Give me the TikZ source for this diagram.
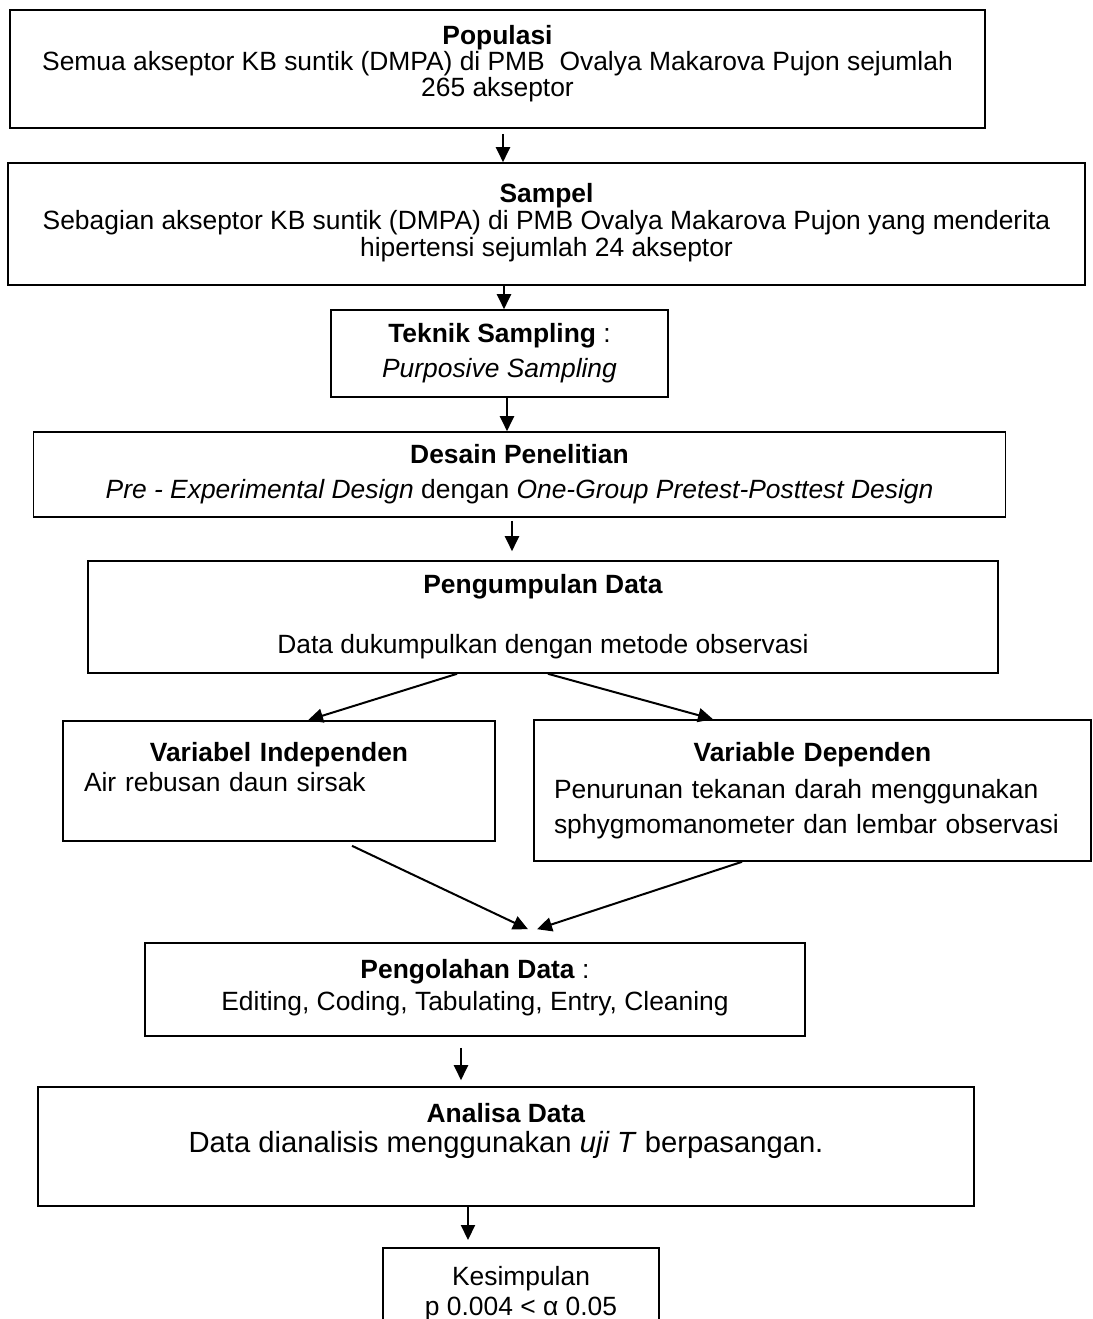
\documentclass[tikz,border=0pt]{standalone}
\usepackage{fontspec}
\setmainfont{Liberation Sans}
\usetikzlibrary{arrows.meta}

\newcommand{\lowstrut}[1]{\rule[-#1]{0pt}{#1}}

\begin{document}
\begin{tikzpicture}
  [x=0.5pt,y=-0.5pt,
   every node/.style={draw, line width=0.8pt, align=center, inner sep=0pt,
     font=\fontsize{13.2}{13.5}\selectfont},
   arr/.style={-{Triangle[length=7.5pt,width=7pt]}, line width=1pt}]
  \useasboundingbox (0,0) rectangle (1093,1319);
  \clip (0,0) rectangle (1093,1319);

  \node[minimum width=487.5pt, minimum height=59pt] (pop) at (497.5,69)
    {\textbf{Populasi}\\[-0.5pt]Semua akseptor KB suntik (DMPA) di PMB~ Ovalya Makarova Pujon sejumlah\\[-0.5pt]265 akseptor\lowstrut{8pt}};
  \node[minimum width=538.5pt, minimum height=61pt] (sam) at (546.5,224)
    {\textbf{Sampel}\\Sebagian akseptor KB suntik (DMPA) di PMB Ovalya Makarova Pujon yang menderita\\hipertensi sejumlah 24 akseptor\lowstrut{4.5pt}};
  \node[minimum width=168.5pt, minimum height=43.5pt] (tek) at (499.5,353.5)
    {\textbf{Teknik Sampling} :\\[4pt]\textit{Purposive Sampling}\lowstrut{3.5pt}};
  \node[minimum width=486pt, minimum height=42.5pt] (des) at (519.5,474.5)
    {\textbf{Desain Penelitian}\\[4pt]\textit{Pre - Experimental Design} dengan \textit{One-Group Pretest-Posttest Design}};
  \node[minimum width=454.75pt, minimum height=56pt] (kum) at (543,617)
    {\textbf{Pengumpulan Data}\\[16.5pt]Data dukumpulkan dengan metode observasi};

  % two variables
  \node[minimum width=216pt, minimum height=60pt, text width=195pt, inner xsep=10.5pt, align=left] (ind) at (279,781)
    {\null\hfill\textbf{Variabel Independen}\hfill\null\\[1.5pt]Air rebusan daun sirsak\lowstrut{14pt}};
  \node[minimum width=278.5pt, minimum height=70.5pt, text width=258.5pt, inner xsep=10pt, align=left] (dep) at (812.5,790.5)
    {\null\hfill\textbf{Variable Dependen}\hfill\null\\[5pt]Penurunan tekanan darah menggunakan\\[4pt]sphygmomanometer dan lembar observasi};

  \node[minimum width=330pt, minimum height=46.5pt] (olah) at (475,989.5)
    {\textbf{Pengolahan Data} :\\[2.5pt]Editing, Coding, Tabulating, Entry, Cleaning\lowstrut{4.5pt}};
  \node[minimum width=468pt, minimum height=59.5pt] (ana) at (506,1146.5)
    {\textbf{Analisa Data}\\[1.5pt]{\fontsize{14.6}{15}\selectfont Data dianalisis menggunakan \textit{uji T} berpasangan.}\lowstrut{19pt}};
  \node[anchor=north, minimum width=138pt, inner ysep=9.3pt] (kes) at (521,1247)
    {Kesimpulan\\[1.5pt]p 0.004 < α 0.05};

  \draw[arr] ([xshift=2.75pt,yshift=-2.5pt]pop.south) -- ([xshift=-21.75pt]sam.north);
  \draw[arr] ([xshift=-21.25pt]sam.south) -- ([xshift=2.25pt]tek.north);
  \draw[arr] ([xshift=3.75pt]tek.south) -- ([xshift=-6.25pt]des.north);
  \draw[arr] ([xshift=-3.75pt,yshift=-1.5pt]des.south) -- ([xshift=-15.5pt,yshift=4.5pt]kum.north);
  \draw[arr] ([xshift=-43pt]kum.south) -- ([xshift=14.5pt]ind.north);
  \draw[arr] ([xshift=2.5pt]kum.south) -- ([xshift=-49.75pt]dep.north);
  \draw[arr] ([xshift=36.5pt,yshift=-2pt]ind.south) -- ([xshift=26.5pt,yshift=6.5pt]olah.north);
  \draw[arr] ([xshift=-35.25pt]dep.south) -- ([xshift=31pt,yshift=6.5pt]olah.north);
  \draw[arr] ([xshift=-7pt,yshift=-5.5pt]olah.south) -- ([xshift=-22.5pt,yshift=3pt]ana.north);
  \draw[arr] ([xshift=-19pt]ana.south) -- ([xshift=-26.5pt,yshift=3.5pt]kes.north);
\end{tikzpicture}
\end{document}
